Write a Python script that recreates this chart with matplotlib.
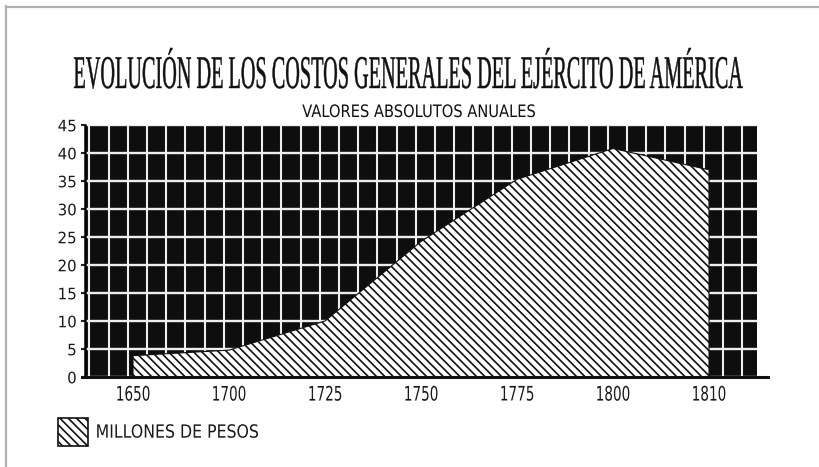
import numpy as np
import matplotlib
matplotlib.use("Agg")
import matplotlib.pyplot as plt
import matplotlib.patheffects as pe
from matplotlib.transforms import Affine2D
from matplotlib.lines import Line2D

# ---------------- data ----------------
years = ["1650", "1700", "1725", "1750", "1775", "1800", "1810"]
costs = [3.8, 4.8, 10.0, 24.2, 35.3, 40.8, 37.0]
y_ticks = [0, 5, 10, 15, 20, 25, 30, 35, 40, 45]
title = "EVOLUCIÓN DE LOS COSTOS GENERALES DEL EJÉRCITO DE AMÉRICA"
subtitle = "VALORES ABSOLUTOS ANUALES"
series_label = "MILLONES DE PESOS"

W, H = 820, 467
DPI = 100
plt.rcParams["hatch.linewidth"] = 1.2


class Stretch(pe.AbstractPathEffect):
    """Scale a text path about an anchor (baseline/center/top)."""
    def __init__(self, sx=1.0, sy=1.0, anchor="baseline", hanchor="center"):
        super().__init__()
        self.sx, self.sy, self.anchor, self.hanchor = sx, sy, anchor, hanchor

    def draw_path(self, renderer, gc, tpath, affine, rgbFace=None):
        ext = tpath.get_extents(affine)
        cx = ext.x0 if self.hanchor == "left" else (ext.x0 + ext.x1) / 2
        if self.anchor == "baseline":
            _, cy = affine.transform((0, 0))
        elif self.anchor == "top":
            cy = ext.y1
        else:
            cy = (ext.y0 + ext.y1) / 2
        a = affine + Affine2D().translate(-cx, -cy).scale(self.sx, self.sy).translate(cx, cy)
        renderer.draw_path(gc, tpath, a, rgbFace)


class StrokedStretch(Stretch):
    """Stretched text with a thin stroke for slightly heavier glyphs."""
    def __init__(self, *args, stroke=0.6, **kw):
        super().__init__(*args, **kw)
        self.stroke = stroke

    def draw_path(self, renderer, gc, tpath, affine, rgbFace=None):
        gc0 = renderer.new_gc()
        gc0.copy_properties(gc)
        gc0.set_linewidth(self.stroke)
        gc0.set_foreground(rgbFace)
        super().draw_path(renderer, gc0, tpath, affine, rgbFace)
        gc0.restore()


fig = plt.figure(figsize=(W / DPI, H / DPI), dpi=DPI)
fig.patch.set_facecolor("white")

def fx(px):
    return px / W

def fy(py):
    return 1 - py / H

ax = fig.add_axes([fx(85), fy(377), fx(757) - fx(85), fy(125) - fy(377)])
ax.set_facecolor("#0e0e0e")
x = np.arange(len(years))
ax.set_xlim(-0.5, len(years) - 0.5)
ax.set_ylim(0, 45)

# white grid on black background
vgrid = np.arange(-0.455, len(years) - 0.5, 0.2)
ax.vlines(vgrid, 0, 45, colors="#eeeeee", linewidth=1.5, zorder=1)
ax.hlines(y_ticks, -0.5, len(years) - 0.5, colors="#eeeeee", linewidth=1.7, zorder=1)

# hatched area
ax.fill_between(x, costs, 0, facecolor="white", edgecolor="#111111",
                hatch="\\\\\\\\", linewidth=0.8, zorder=2, label=series_label)

for s in ["top", "right"]:
    ax.spines[s].set_visible(False)
ax.spines["left"].set_linewidth(1.8)
ax.spines["bottom"].set_visible(False)
ax.add_line(Line2D([-0.005, 1.017], [0, 0], transform=ax.transAxes,
                   color="#111111", linewidth=2.2, clip_on=False, zorder=5))

ax.set_xticks(x)
ax.set_xticklabels(years, family="DejaVu Sans", fontsize=10.3, color="#1a1a1a")
ax.set_yticks(y_ticks)
ax.set_yticklabels([str(v) for v in y_ticks], family="DejaVu Sans",
                   fontsize=10.8, color="#1a1a1a")
ax.tick_params(axis="x", direction="in", length=4, width=1, pad=6, color="#222222")
ax.tick_params(axis="y", direction="out", length=3, width=1.5, pad=3, color="#222222")
for lbl in ax.get_xticklabels():
    lbl.set_path_effects([Stretch(0.95, 1.4, "top")])
for lbl in ax.get_yticklabels():
    lbl.set_path_effects([Stretch(1.0, 1.05, "center")])

# titles
t = fig.text(fx(408.5), fy(88), title, family="Liberation Serif",
             fontsize=14, ha="center", va="baseline", color="#111111")
st = fig.text(fx(418.5), fy(117), subtitle, family="DejaVu Sans",
              fontsize=10, ha="center", va="baseline", color="#111111")

# legend
leg = fig.legend(loc="upper left", bbox_to_anchor=(fx(52), fy(412)),
                 frameon=False, fontsize=10.5, handlelength=2.1,
                 handleheight=2.6, handletextpad=0.5, borderaxespad=0)
for txt in leg.get_texts():
    txt.set_family("DejaVu Sans")
    txt.set_color("#1a1a1a")
    txt.set_path_effects([Stretch(1.08, 1.25, "center", "left")])
for hnd in leg.legend_handles:
    hnd.set_linewidth(1.2)

# frame lines at top/left of the picture
fig.add_artist(Line2D([fx(6), 1], [fy(6.5), fy(6.5)], color="#b0b0b0", linewidth=1.6))
fig.add_artist(Line2D([fx(6.5), fx(6.5)], [0, fy(6)], color="#b0b0b0", linewidth=1.6))

# fit title sizes to the reference (width and cap height)
fig.canvas.draw()
r = fig.canvas.get_renderer()

def fit(text, target_w, target_cap, cap_ratio, stroke=None):
    w = text.get_window_extent(r).width
    fs = text.get_fontsize() * target_w / w
    text.set_fontsize(fs)
    cap_px = cap_ratio * fs * DPI / 72
    if stroke:
        text.set_path_effects([StrokedStretch(1.0, target_cap / cap_px, "baseline",
                                              stroke=stroke)])
    else:
        text.set_path_effects([Stretch(1.0, target_cap / cap_px, "baseline")])

fit(t, 673, 31, 0.662, stroke=0.3)
fit(st, 233, 12.5, 0.729)

fig.savefig("out.png", dpi=DPI, facecolor="white")
